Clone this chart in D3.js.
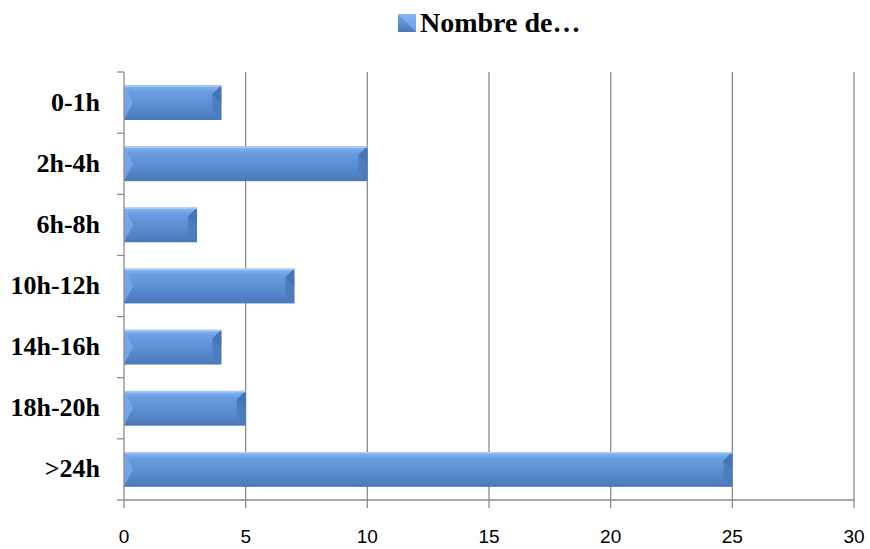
<!DOCTYPE html>
<html>
<head>
<meta charset="utf-8">
<script src="https://cdn.jsdelivr.net/npm/d3@7"></script>
<style>
  html, body { margin: 0; padding: 0; background: #fff; }
  svg { display: block; }
</style>
</head>
<body>
<svg id="chart" width="870" height="549"></svg>
<script>
// Duration classes and number of cases
const categories = ["0-1h", "2h-4h", "6h-8h", "10h-12h", "14h-16h", "18h-20h", ">24h"];
const values = [4, 10, 3, 7, 4, 5, 25];
const xTicks = [0, 5, 10, 15, 20, 25, 30];
const seriesName = "Nombre de…";

const svg = d3.select("#chart");
const margin = { top: 72, right: 16, bottom: 49, left: 124 };
const W = 870, H = 549;
const innerW = W - margin.left - margin.right;
const innerH = H - margin.top - margin.bottom;

const x = d3.scaleLinear().domain([0, 30]).range([margin.left, margin.left + innerW]);
const y = d3.scaleBand().domain(categories).range([margin.top, margin.top + innerH])
  .paddingInner(0.43).paddingOuter(0.215);

const defs = svg.append("defs");
const grad = defs.append("linearGradient").attr("id", "barGrad")
  .attr("x1", 0).attr("y1", 0).attr("x2", 0).attr("y2", 1);
grad.append("stop").attr("offset", "0%").attr("stop-color", "#8cbaf2");
grad.append("stop").attr("offset", "18%").attr("stop-color", "#6a9ee0");
grad.append("stop").attr("offset", "55%").attr("stop-color", "#5b8ed2");
grad.append("stop").attr("offset", "100%").attr("stop-color", "#4a79b8");

// Vertical gridlines
svg.append("g").selectAll("line").data(xTicks.filter(d => d > 0)).join("line")
  .attr("x1", d => x(d)).attr("x2", d => x(d))
  .attr("y1", margin.top).attr("y2", margin.top + innerH)
  .attr("stroke", "#8c8c8c").attr("stroke-width", 1.3);

// Bars with bevelled ends
const bars = svg.append("g").selectAll("g").data(categories.map((c, i) => ({ c, v: values[i] }))).join("g");
bars.append("rect")
  .attr("x", x(0)).attr("y", d => y(d.c))
  .attr("width", d => x(d.v) - x(0)).attr("height", y.bandwidth())
  .attr("fill", "url(#barGrad)");
const bev = 9;
bars.each(function(d) {
  const g = d3.select(this);
  const x0 = x(0), x1 = x(d.v), y0 = y(d.c), y1 = y0 + y.bandwidth(), ym = (y0 + y1) / 2;
  // right end facets
  g.append("path").attr("d", `M${x1},${y0} L${x1 - bev},${y0 + bev} L${x1 - bev},${y1 - bev} L${x1},${y1} Z`)
    .attr("fill", "#4a7bbd").attr("opacity", 0.9);
  g.append("path").attr("d", `M${x1},${y0} L${x1 - bev},${y0 + bev} L${x1},${ym} Z`)
    .attr("fill", "#3f6eae").attr("opacity", 0.6);
  // left end facets
  g.append("path").attr("d", `M${x0},${y0} L${x0 + bev},${ym} L${x0},${y1} Z`)
    .attr("fill", "#7eaef0").attr("opacity", 0.7);
  // top highlight edge
  g.append("rect").attr("x", x0).attr("y", y0).attr("width", x1 - x0).attr("height", 1.5)
    .attr("fill", "#a9cdf8");
});

// X axis line and ticks
const xAxisY = margin.top + innerH;
svg.append("line").attr("x1", margin.left).attr("x2", x(30)).attr("y1", xAxisY).attr("y2", xAxisY)
  .attr("stroke", "#8c8c8c").attr("stroke-width", 1.3);
svg.append("g").selectAll("line").data(xTicks).join("line")
  .attr("x1", d => x(d)).attr("x2", d => x(d)).attr("y1", xAxisY).attr("y2", xAxisY + 8)
  .attr("stroke", "#8c8c8c").attr("stroke-width", 1.3);
svg.append("g").selectAll("text").data(xTicks).join("text")
  .attr("x", d => x(d)).attr("y", xAxisY + 43)
  .attr("text-anchor", "middle")
  .attr("font-family", "'Liberation Sans', Arial, sans-serif").attr("font-size", 19)
  .attr("fill", "#000").text(d => d);

// Y axis line and category boundary ticks
svg.append("line").attr("x1", margin.left).attr("x2", margin.left)
  .attr("y1", margin.top).attr("y2", xAxisY)
  .attr("stroke", "#8c8c8c").attr("stroke-width", 1.3);
const bounds = d3.range(categories.length + 1).map(i => margin.top + i * innerH / categories.length);
svg.append("g").selectAll("line").data(bounds).join("line")
  .attr("x1", margin.left - 7).attr("x2", margin.left).attr("y1", d => d).attr("y2", d => d)
  .attr("stroke", "#8c8c8c").attr("stroke-width", 1.3);
svg.append("g").selectAll("text").data(categories).join("text")
  .attr("x", 100).attr("y", d => y(d) + y.bandwidth() / 2 + 8)
  .attr("text-anchor", "end")
  .attr("font-family", "'Liberation Serif', 'Times New Roman', serif")
  .attr("font-weight", "bold").attr("font-size", 26)
  .attr("fill", "#000").text(d => d);

// Legend
const lg = svg.append("g");
lg.append("rect").attr("x", 398).attr("y", 14).attr("width", 18).attr("height", 18)
  .attr("fill", "url(#barGrad)");
lg.append("path").attr("d", "M398,14 L416,14 L416,32 Z").attr("fill", "#8cbaf2").attr("opacity", 0.6);
lg.append("text").attr("x", 420).attr("y", 32)
  .attr("font-family", "'Liberation Serif', 'Times New Roman', serif")
  .attr("font-weight", "bold").attr("font-size", 28)
  .attr("fill", "#000").text(seriesName);
</script>
</body>
</html>
